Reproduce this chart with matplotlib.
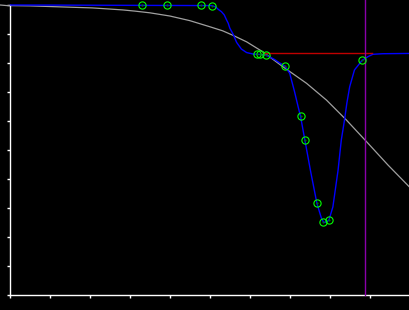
import matplotlib
matplotlib.use("Agg")
import matplotlib.pyplot as plt

# reference response (gray)
ref_x = [-0.26, -0.09, 0.49, 1.36, 2.04, 2.49, 2.81, 3.11, 3.49, 3.99, 4.49, 4.99,
         5.31, 5.56, 5.91, 6.31, 6.82, 7.41, 7.91, 8.41, 8.91, 9.45, 9.99]
ref_y = [10.0, 9.98, 9.97, 9.93, 9.90, 9.86, 9.83, 9.79, 9.73, 9.62, 9.46, 9.25,
         9.11, 8.96, 8.73, 8.39, 7.87, 7.30, 6.72, 6.03, 5.29, 4.48, 3.72]

# fitted curve (blue)
fit_x = [0.0, 5.04, 5.14, 5.20, 5.28, 5.35, 5.41, 5.45, 5.49, 5.57, 5.66, 5.78, 5.91,
         6.07, 6.18, 6.29, 6.40, 6.49, 6.61, 6.74, 6.87, 6.99, 7.11, 7.20, 7.26, 7.37,
         7.51, 7.67, 7.78, 7.84, 7.91, 7.97, 8.07, 8.20, 8.28, 8.36, 8.42, 8.49, 8.61,
         8.80, 8.95, 9.07, 9.32, 9.99]
fit_y = [10.0, 9.98, 9.93, 9.85, 9.77, 9.66, 9.48, 9.37, 9.20, 9.00, 8.71, 8.48, 8.36,
         8.31, 8.30, 8.29, 8.27, 8.21, 8.12, 8.00, 7.89, 7.64, 7.01, 6.49, 6.16, 5.33,
         4.28, 3.16, 2.66, 2.50, 2.52, 2.58, 3.04, 4.31, 5.34, 6.03, 6.62, 7.18, 7.76,
         8.09, 8.22, 8.30, 8.32, 8.33]

# measured points (green)
pts_x = [3.30, 3.92, 4.77, 5.05, 6.18, 6.24, 6.40, 6.87, 7.26, 7.37, 7.67, 7.81, 7.97, 8.80]
pts_y = [10.0, 10.0, 10.0, 9.96, 8.30, 8.30, 8.27, 7.89, 6.16, 5.33, 3.16, 2.51, 2.58, 8.09]

# cursor lines
level_y = 8.33
level_x = [6.31, 9.04]
cursor_x = 8.87

fig = plt.figure(figsize=(4.1, 3.1), dpi=100, facecolor='black')
ax = fig.add_axes([10.5 / 410, 15 / 310, 399.5 / 410, 290 / 310])
ax.set_facecolor('black')

ax.plot(ref_x, ref_y, color='#a0a0a0', lw=0.9, clip_on=False, zorder=2)
ax.plot(fit_x, fit_y, color='#0000ff', lw=1.0, clip_on=False, zorder=3)
ax.plot(level_x, [level_y, level_y], color='#c00000', lw=1.0, zorder=4)
ax.plot([cursor_x, cursor_x], [0, 10.17], color='#8a00aa', lw=1.0, clip_on=False, zorder=4)
ax.plot(pts_x, pts_y, 'o', mfc='none', mec='#00ff00', ms=5.2, mew=0.8,
        clip_on=False, zorder=5)
ax.plot(pts_x, pts_y, '.', color='#008000', ms=1.0, clip_on=False, zorder=6)

ax.set_xlim(0, 10)
ax.set_ylim(0, 10)
ax.set_xticks(range(0, 11))
ax.set_yticks(range(0, 11))
ax.set_xticklabels([])
ax.set_yticklabels([])
for s in ['top', 'right']:
    ax.spines[s].set_visible(False)
for s in ['left', 'bottom']:
    ax.spines[s].set_color('white')
    ax.spines[s].set_linewidth(1.0)
ax.tick_params(colors='white', direction='out', length=2.3, width=1.0)

fig.savefig('out.png', dpi=100, facecolor='black')
